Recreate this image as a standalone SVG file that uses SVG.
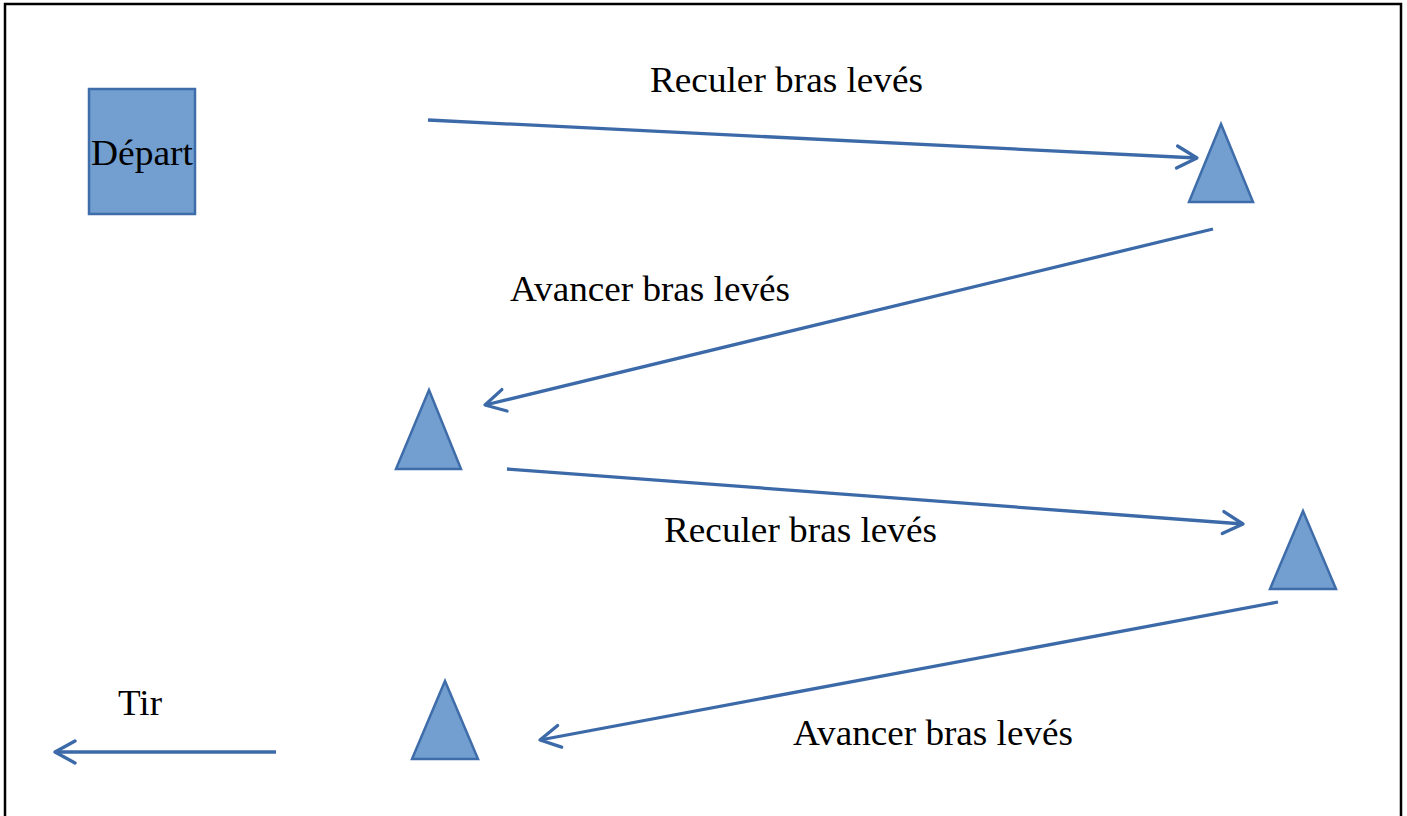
<svg xmlns="http://www.w3.org/2000/svg" width="1407" height="816" viewBox="0 0 1407 816">
  <style>
    .shape { fill: #729fcf; stroke: #3f6daa; stroke-width: 2.5; stroke-linejoin: miter; }
    .link { fill: none; stroke: #3c6aa8; stroke-width: 3.3; marker-end: url(#chevron); }
    .label { font-family: "Liberation Serif", "Times New Roman", serif; font-size: 35px; fill: #000; }
  </style>
  <defs>
    <marker id="chevron" markerUnits="userSpaceOnUse" markerWidth="30" markerHeight="30" refX="0" refY="0" viewBox="-24 -15 30 30" orient="auto" overflow="visible">
      <path d="M-20,-11 L0,0 L-20,11" fill="none" stroke="#3c6aa8" stroke-width="3.3" stroke-linecap="round" stroke-linejoin="round"/>
    </marker>
  </defs>

  <rect width="1407" height="816" fill="#ffffff"/>
  <!-- frame -->
  <path d="M5,820 L5,4 L1401,4 L1401,820" fill="none" stroke="#000" stroke-width="2.5"/>

  <g id="depart">
    <rect class="shape" x="89" y="89" width="106" height="125"/>
    <text class="label" x="91" y="165" textLength="102" lengthAdjust="spacingAndGlyphs">Départ</text>
  </g>

  <g id="cone1"><polygon class="shape" points="1221,124 1253,202 1189,202"/></g>
  <g id="cone2"><polygon class="shape" points="429,390 461,469 396,469"/></g>
  <g id="cone3"><polygon class="shape" points="1303,511 1336,589 1270,589"/></g>
  <g id="cone4"><polygon class="shape" points="445,681 478,759 412,759"/></g>

  <g id="connectors">
    <line class="link" x1="428" y1="120" x2="1197" y2="158"/>
    <line class="link" x1="1213" y1="229" x2="485" y2="405"/>
    <line class="link" x1="507" y1="469" x2="1243" y2="524"/>
    <line class="link" x1="1278" y1="602" x2="540" y2="740"/>
    <line class="link" x1="276" y1="752" x2="55" y2="752"/>
  </g>

  <g id="labels">
    <text class="label" x="650" y="92" textLength="273" lengthAdjust="spacingAndGlyphs">Reculer bras levés</text>
    <text class="label" x="510" y="301" textLength="280" lengthAdjust="spacingAndGlyphs">Avancer bras levés</text>
    <text class="label" x="664" y="542" textLength="273" lengthAdjust="spacingAndGlyphs">Reculer bras levés</text>
    <text class="label" x="793" y="745" textLength="280" lengthAdjust="spacingAndGlyphs">Avancer bras levés</text>
    <text class="label" x="118" y="715" textLength="44" lengthAdjust="spacingAndGlyphs">Tir</text>
  </g>
</svg>
